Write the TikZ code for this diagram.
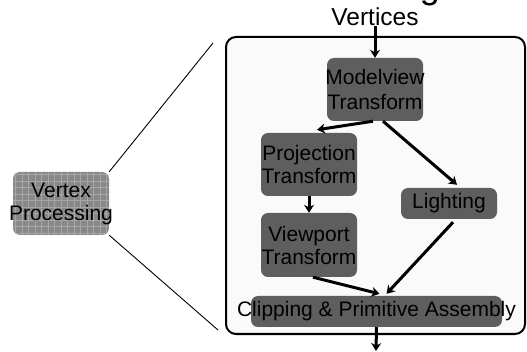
\documentclass[tikz,border=0pt]{standalone}
\usepackage{fontspec}
\setmainfont{Liberation Sans}
\usetikzlibrary{arrows.meta}
\definecolor{boxgray}{HTML}{5E5E5E}
\definecolor{framefill}{HTML}{FAFAFA}
\definecolor{vpfill}{HTML}{888888}
\definecolor{vpgrid}{HTML}{A6A6A6}
\tikzset{
  box/.style={fill=boxgray, rounded corners=7pt, inner ysep=0pt, inner xsep=-8pt, align=center,
    font=\fontsize{21}{23}\selectfont, minimum width=96pt, text=black},
  flow/.style={line width=3pt, -{Stealth[length=8pt,width=10pt]}},
  zoomline/.style={line width=0.9pt}
}
\begin{document}
\begin{tikzpicture}[x=1pt,y=-1pt]
\path[use as bounding box, clip] (0,0) rectangle (527,352);
% cut-off title glyph
\node[font=\fontsize{36}{36}\selectfont, anchor=base, inner sep=0pt] (title) at (430,-1.5) {g};
% frame
\node[draw, line width=2pt, rounded corners=10pt, fill=framefill,
      minimum width=299pt, minimum height=297pt, inner sep=0pt] (frame) at (375.5,185.5) {};
% vertex processing box
\node[box, minimum height=63pt, fill=vpfill,
      path picture={\draw[vpgrid, line width=1pt, step=6.5pt]
        (path picture bounding box.south west) grid (path picture bounding box.north east);}]
      (vp) at (61,203.5) {Vertex\\Processing};
\coordinate (zt) at (213,43);
\coordinate (zb) at (218,330);
\draw[zoomline] (vp.north east) -- (zt);
\draw[zoomline] (vp.south east) -- (zb);
% pipeline
\node[anchor=base, inner sep=0pt, font=\fontsize{24.5}{24}\selectfont] (vert) at (375,26) {Vertices};
\node[box, minimum height=63pt, font=\fontsize{21}{25}\selectfont] (mv) at (375,89.5) {Modelview\\Transform};
\node[box, minimum height=63pt] (pr) at (309,164.5) {Projection\\Transform};
\node[box, minimum height=64pt] (vw) at (309,245) {Viewport\\Transform};
\node[box, minimum height=31pt] (li) at (449,203.5) {Lighting};
\node[box, minimum height=31pt, minimum width=251pt, inner xsep=-20pt] (cl) at (376.5,311.5) {Clipping \& Primitive Assembly};
\coordinate (out) at (376,351);
\draw[flow] (vert.south) -- (mv.north);
\draw[flow] ([xshift=-2pt]mv.south) -- ([xshift=8pt,yshift=3pt]pr.north);
\draw[flow] ([xshift=8pt]mv.south) -- ([xshift=8pt,yshift=3pt]li.north);
\draw[flow] (pr.south) -- (vw.north);
\draw[flow] ([xshift=4pt]vw.south) -- ([xshift=3pt,yshift=2pt]cl.north);
\draw[flow] ([xshift=4pt,yshift=-3pt]li.south) -- ([xshift=10pt,yshift=2pt]cl.north);
\draw[flow] (cl.south) -- (out);
\end{tikzpicture}
\end{document}
